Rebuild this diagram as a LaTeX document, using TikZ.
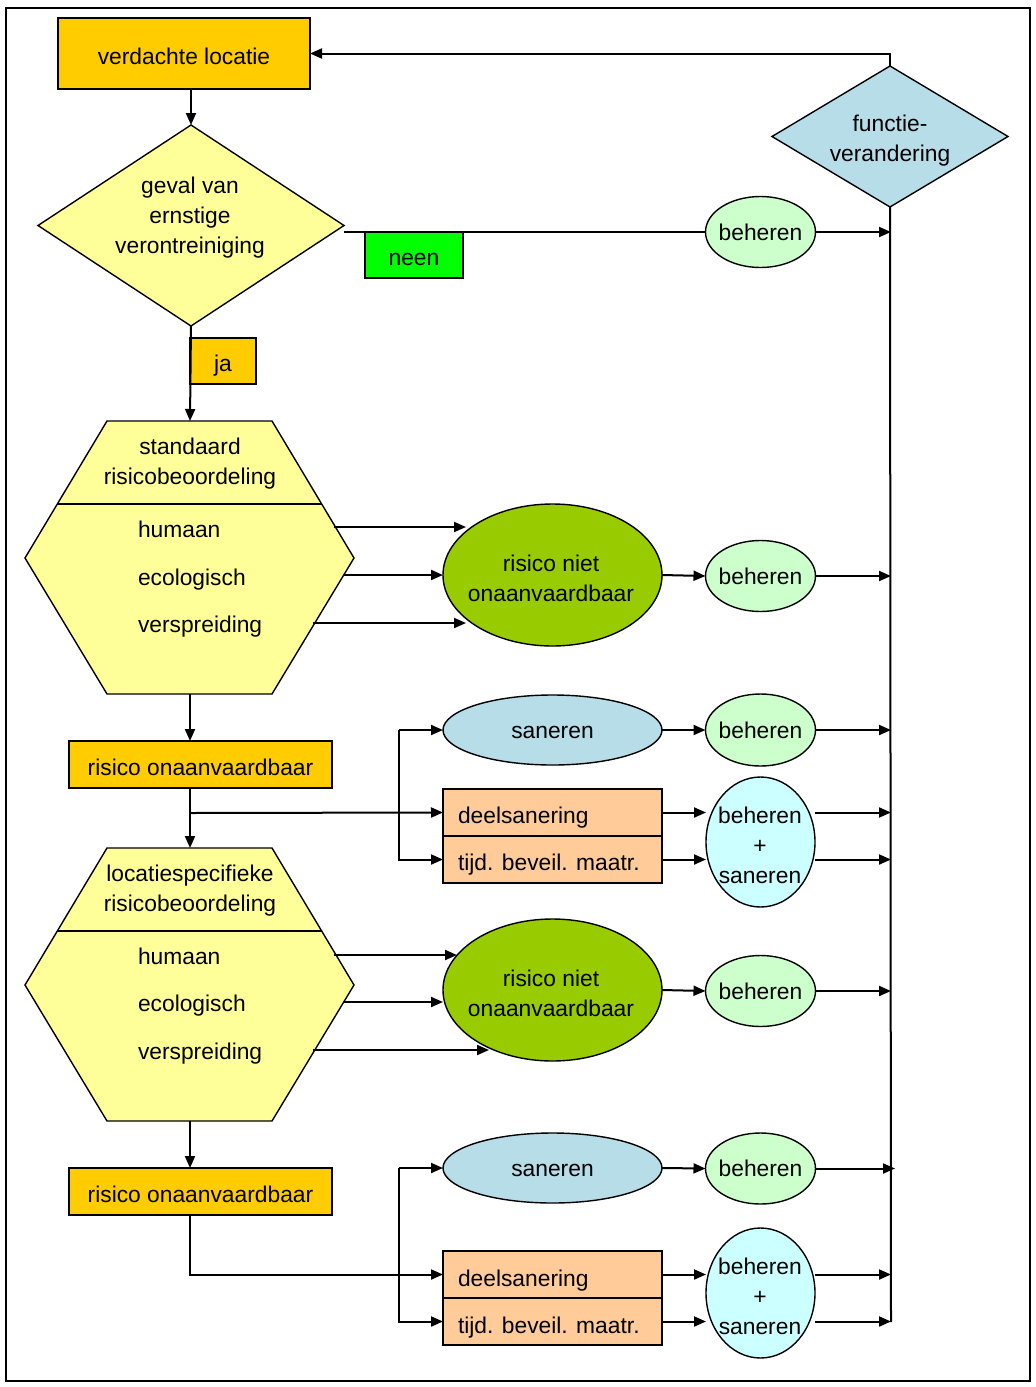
\documentclass[tikz,border=0pt]{standalone}
\usepackage{fontspec}
\setmainfont{Liberation Sans}
\usetikzlibrary{arrows.meta,shapes.geometric}
\definecolor{gold}{HTML}{FFCC00}
\definecolor{lyellow}{HTML}{FFFF99}
\definecolor{neengreen}{HTML}{00FF00}
\definecolor{behgreen}{HTML}{CCFFCC}
\definecolor{lblue}{HTML}{B7DDE8}
\definecolor{olive}{HTML}{99CC00}
\definecolor{peach}{HTML}{FFCC99}
\definecolor{lcyan}{HTML}{CCFFFF}
\begin{document}
\begin{tikzpicture}[x=0.5pt,y=-0.5pt,
  every node/.style={font=\fontsize{11.4}{15}\selectfont, inner sep=0pt, outer sep=0pt},
  shp/.style={draw, line width=0.7pt},
  rbox/.style={shp, rectangle, text height=10.6pt, text depth=0pt},
  ell/.style={shp, ellipse},
  dia/.style={shp, diamond},
  txt/.style={align=center, text depth=0pt},
  ghost/.style={rectangle, minimum width=164.5pt, minimum height=136.5pt},
  conn/.style={line width=1pt, -{Triangle[length=6pt,width=5pt]}},
  plain/.style={line width=1pt},
  lft/.style={anchor=west}]
\useasboundingbox (0,0) rectangle (1036,1387);
\draw[line width=0.8pt] (6,8) rectangle (1030,1381);

% ---- top ----
\node[rbox, fill=gold, minimum width=126pt, minimum height=35.5pt] (vl) at (184,53.5) {verdachte locatie};
\node[dia, fill=lyellow, minimum width=153pt, minimum height=100.5pt] (gv) at (191,225.5) {};
\node[txt] (gvt) at (190,215.5) {geval van\\ernstige\\verontreiniging};
\node[rbox, fill=neengreen, minimum width=49pt, minimum height=23pt] (neen) at (414,255) {neen};
\node[rbox, fill=gold, minimum width=33pt, minimum height=23pt] (ja) at (223,361) {ja};
\node[ell, fill=behgreen, minimum width=55pt, minimum height=35.5pt] (be1) at (760.5,232) {};
\node[txt] (be1t) at (be1) {beheren};
\node[dia, fill=lblue, minimum width=118pt, minimum height=70.5pt] (fv) at (890,136.5) {};
\node[txt] (fvt) at (890,138.5) {functie-\\verandering};
\coordinate (vend) at (891,1322);

% ---- hexagon 1 ----
\filldraw[shp, fill=lyellow] (107,421) -- (272,421) -- (354,558) -- (272,694) -- (107,694) -- (25,558) -- cycle;
\draw[line width=0.7pt] (57.3,504) -- (321.7,504);
\node[ghost] (h1) at (190,557.5) {};
\node[txt] (h1t) at (190,461) {standaard\\risicobeoordeling};
\node[lft, text depth=0pt] (h1a) at (138,529) {humaan};
\node[lft, text depth=0pt] (h1b) at (138,577) {ecologisch};
\node[lft, text depth=0pt] (h1c) at (138,624) {verspreiding};
\coordinate (a1s) at (334,527); \coordinate (a1e) at (466,527);
\coordinate (b1s) at (344,575);
\coordinate (c1s) at (313,623); \coordinate (c1e) at (466,623);

\node[ell, fill=olive, minimum width=109.5pt, minimum height=71pt] (grn1) at (552.5,575) {};
\node[txt] (grn1t) at (551,578) {risico niet\\onaanvaardbaar};
\node[ell, fill=behgreen, minimum width=55pt, minimum height=35.5pt] (be2) at (760.5,576) {};
\node[txt] (be2t) at (be2) {beheren};

\node[rbox, fill=gold, minimum width=131.5pt, minimum height=23.5pt] (ro1) at (200.5,764.5) {risico onaanvaardbaar};

% ---- cluster 1 ----
\node[ell, fill=lblue, minimum width=109.5pt, minimum height=35pt] (sn1) at (552.5,730) {};
\node[txt] (sn1t) at ([yshift=-1.2pt]sn1.center) {saneren};
\node[ell, fill=behgreen, minimum width=55pt, minimum height=36pt] (be3) at (760.5,730) {};
\node[txt] (be3t) at (be3) {beheren};
\node[rbox, fill=peach, minimum width=109.5pt, minimum height=23.5pt] (ds1) at (552.5,812.5) {};
\node[rbox, fill=peach, minimum width=109.5pt, minimum height=23.5pt] (tm1) at (552.5,859.5) {};
\node[lft, text depth=0pt] (ds1t) at (458,815) {deelsanering};
\node[lft, text depth=0pt] (tm1t) at (458,862) {tijd. beveil. maatr.};
\node[ell, fill=lcyan, minimum width=54.5pt, minimum height=65pt] (bs1) at (760.5,842) {};
\node[txt] (bs1t) at (760,845) {beheren\\+\\saneren};
\coordinate (s1) at (399,730);
\coordinate (br1) at (190,813);

% ---- hexagon 2 ----
\filldraw[shp, fill=lyellow] (107,848) -- (272,848) -- (354,985) -- (272,1121) -- (107,1121) -- (25,985) -- cycle;
\draw[line width=0.7pt] (57.3,931) -- (321.7,931);
\node[ghost] (h2) at (190,984.5) {};
\node[txt] (h2t) at (190,888) {locatiespecifieke\\risicobeoordeling};
\node[lft, text depth=0pt] (h2a) at (138,956) {humaan};
\node[lft, text depth=0pt] (h2b) at (138,1003) {ecologisch};
\node[lft, text depth=0pt] (h2c) at (138,1051) {verspreiding};
\coordinate (a2s) at (334,955); \coordinate (a2e) at (457,955);
\coordinate (b2s) at (344,1002);
\coordinate (c2s) at (313,1050); \coordinate (c2e) at (489,1050);

\node[ell, fill=olive, minimum width=109.5pt, minimum height=71pt] (grn2) at (552.5,990) {};
\node[txt] (grn2t) at (551,993) {risico niet\\onaanvaardbaar};
\node[ell, fill=behgreen, minimum width=55pt, minimum height=35.5pt] (be4) at (760.5,991) {};
\node[txt] (be4t) at (be4) {beheren};

\node[rbox, fill=gold, minimum width=131.5pt, minimum height=23.5pt] (ro2) at (200.5,1191.5) {risico onaanvaardbaar};

% ---- cluster 2 ----
\node[ell, fill=lblue, minimum width=109.5pt, minimum height=35pt] (sn2) at (552.5,1168) {};
\node[txt] (sn2t) at ([yshift=-1.2pt]sn2.center) {saneren};
\node[ell, fill=behgreen, minimum width=55pt, minimum height=35.5pt] (be5) at (760.5,1168.5) {};
\node[txt] (be5t) at (be5) {beheren};
\node[rbox, fill=peach, minimum width=109.5pt, minimum height=23.5pt] (ds2) at (552.5,1274.5) {};
\node[rbox, fill=peach, minimum width=109.5pt, minimum height=23.5pt] (tm2) at (552.5,1321.5) {};
\node[lft, text depth=0pt] (ds2t) at (458,1278) {deelsanering};
\node[lft, text depth=0pt] (tm2t) at (458,1325) {tijd. beveil. maatr.};
\node[ell, fill=lcyan, minimum width=54.5pt, minimum height=65pt] (bs2) at (760.5,1293) {};
\node[txt] (bs2t) at (760,1296) {beheren\\+\\saneren};
\coordinate (s2) at (399,1168);

% ---- connectors ----
\draw[conn] (vl.south -| gv.north) -- (gv.north);
\draw[plain] (gv.east |- be1.west) -- (be1.west);
\draw[conn] (be1.east) -- (be1.east -| vend);
\draw[plain] (fv.south) -- (vend);
\draw[conn] (fv.north) -- (fv.north |- vl.east) -- (vl.east);
\draw[conn] (gv.south) -- (h1.north);

\draw[conn] (a1s) -- (a1e);
\draw[conn] (b1s) -- (grn1.west);
\draw[conn] (c1s) -- (c1e);
\draw[conn] (grn1.east) -- (be2.west);
\draw[conn] (be2.east) -- (be2.east -| vend);

\draw[conn] (h1.south) -- (h1.south |- ro1.north);
\draw[conn] (ro1.south -| h1.south) -- (h2.north);
\draw[conn] (br1) -- (ds1.west);
\draw[conn] (s1) -- (sn1.west);
\draw[conn] (s1) |- (tm1.west);
\draw[conn] (sn1.east) -- (be3.west);
\draw[conn] (be3.east) -- (be3.east -| vend);
\draw[conn] (ds1.east) -- (ds1.east -| bs1.west);
\draw[conn] (tm1.east) -- (tm1.east -| bs1.west);
\draw[conn] (ds1.east -| bs1.east) -- (ds1.east -| vend);
\draw[conn] (tm1.east -| bs1.east) -- (tm1.east -| vend);

\draw[conn] (a2s) -- (a2e);
\draw[conn] (b2s) -- (grn2.west |- b2s);
\draw[conn] (c2s) -- (c2e);
\draw[conn] (grn2.east) -- (be4.west);
\draw[conn] (be4.east) -- (be4.east -| vend);

\draw[conn] (h2.south) -- (h2.south |- ro2.north);
\draw[conn] (ro2.south -| h2.south) |- (ds2.west);
\draw[conn] (s2) -- (sn2.west);
\draw[conn] (s2) |- (tm2.west);
\draw[conn] (sn2.east) -- (be5.west);
\draw[conn] (be5.east) -- ([xshift=2pt]be5.east -| vend);
\draw[conn] (ds2.east) -- (ds2.east -| bs2.west);
\draw[conn] (tm2.east) -- (tm2.east -| bs2.west);
\draw[conn] (ds2.east -| bs2.east) -- (ds2.east -| vend);
\draw[conn] (tm2.east -| bs2.east) -- (tm2.east -| vend);
\end{tikzpicture}
\end{document}
